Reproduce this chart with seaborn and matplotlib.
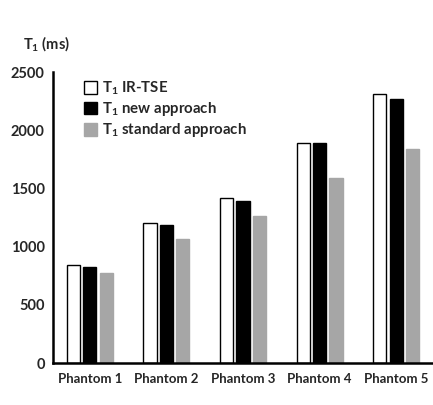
import pandas as pd
import matplotlib
matplotlib.use("Agg")
import matplotlib.pyplot as plt
import seaborn as sns

# =========================
# DATA
# =========================

phantoms = ["Phantom 1", "Phantom 2", "Phantom 3", "Phantom 4", "Phantom 5"]
methods = ["T$_1$ IR-TSE", "T$_1$ new approach", "T$_1$ standard approach"]
t1_ir_tse = [842, 1200, 1420, 1893, 2314]
t1_new = [821, 1186, 1394, 1893, 2268]
t1_standard = [775, 1063, 1263, 1589, 1836]
y_ticks = [0, 500, 1000, 1500, 2000, 2500]

df = pd.DataFrame({
    "Phantom": phantoms * 3,
    "Method": [methods[0]] * 5 + [methods[1]] * 5 + [methods[2]] * 5,
    "T1": t1_ir_tse + t1_new + t1_standard,
})

# =========================
# STYLE
# =========================

sns.set_style("white")
plt.rcParams["font.family"] = ["Lato", "DejaVu Sans"]
plt.rcParams["font.weight"] = "bold"
plt.rcParams["mathtext.fontset"] = "custom"
plt.rcParams["mathtext.rm"] = "Lato:bold"
plt.rcParams["mathtext.it"] = "Lato:bold"
plt.rcParams["mathtext.bf"] = "Lato:bold"
plt.rcParams["mathtext.default"] = "rm"

colors = ["white", "black", "#a6a6a6"]
edges = ["black", "black", "#a6a6a6"]

# =========================
# PLOT
# =========================

fig = plt.figure(figsize=(4.33, 4.05), dpi=100)
ax = fig.add_axes([0.1224, 0.1037, 0.8776, 0.7185])

sns.barplot(
    data=df,
    x="Phantom",
    y="T1",
    hue="Method",
    palette=colors,
    width=0.645,
    gap=0.2,
    ax=ax,
)

for cont, ec in zip(ax.containers, edges):
    for bar in cont:
        bar.set_edgecolor(ec)
        bar.set_linewidth(1.0)

ax.set_xlim(-0.48, 4.48)
ax.set_ylim(0, 2500)
ax.set_yticks(y_ticks)
ax.set_xlabel("")
ax.set_ylabel("")

for side in ["top", "right"]:
    ax.spines[side].set_visible(False)
ax.spines["left"].set_linewidth(1.8)
ax.spines["bottom"].set_linewidth(1.8)
ax.spines["left"].set_color("black")
ax.spines["bottom"].set_color("black")

ax.tick_params(axis="y", direction="in", length=5, width=1.5, labelsize=10.5, pad=6)
ax.tick_params(axis="x", length=0, labelsize=9.5, pad=7)
for lbl in ax.get_xticklabels() + ax.get_yticklabels():
    lbl.set_fontweight("bold")

fig.text(0.053, 0.88, "T$_1$ (ms)", fontsize=10.5, fontweight="bold")

leg = ax.legend(
    loc="upper left",
    bbox_to_anchor=(0.067, 0.995),
    frameon=False,
    fontsize=10.8,
    handlelength=0.85,
    handleheight=0.95,
    handletextpad=0.35,
    labelspacing=0.22,
    borderaxespad=0,
)
for h, ec in zip(leg.legend_handles, edges):
    h.set_edgecolor(ec)

plt.savefig("out.png", dpi=100)
